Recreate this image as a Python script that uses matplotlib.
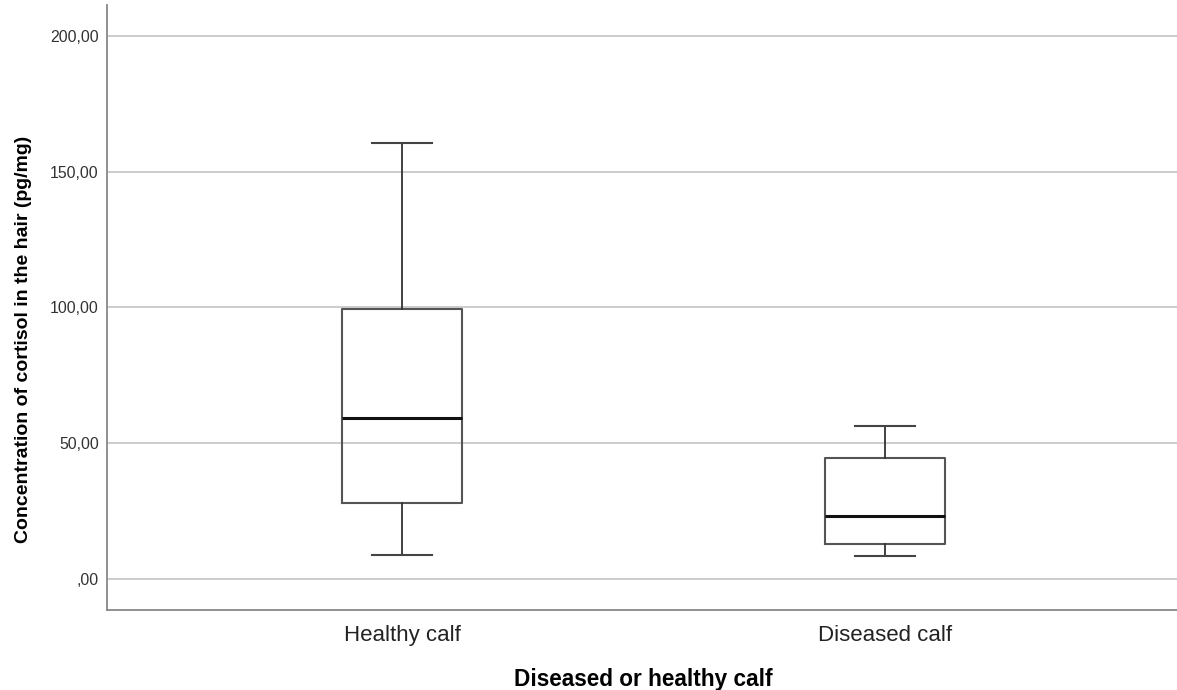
import matplotlib.pyplot as plt
from matplotlib.ticker import FuncFormatter

plt.rcParams['font.family'] = ['Liberation Sans', 'DejaVu Sans']

# Box plot summary values (pg/mg)
groups = ["Healthy calf", "Diseased calf"]
whisker_low = [8.9, 8.5]
q1 = [28.0, 13.0]
median = [59.5, 23.4]
q3 = [99.6, 44.7]
whisker_high = [160.4, 56.4]
y_ticks = [0, 50, 100, 150, 200]

stats = []
for i, g in enumerate(groups):
    stats.append({"label": g, "whislo": whisker_low[i], "q1": q1[i], "med": median[i],
                  "q3": q3[i], "whishi": whisker_high[i], "fliers": []})


def comma_fmt(v, pos):
    s = ("%.2f" % v).replace(".", ",")
    if v == 0:
        s = s.lstrip("0")
    return s


fig = plt.figure(figsize=(11.77, 6.9), dpi=100)
ax = fig.add_axes([0.0909, 0.1159, 0.9091, 0.8769])

ax.bxp(stats, positions=[1, 2], widths=0.25, showfliers=False,
       boxprops=dict(color="#555555", linewidth=1.5),
       whiskerprops=dict(color="#333333", linewidth=1.3),
       capprops=dict(color="#444444", linewidth=1.5),
       medianprops=dict(color="#111111", linewidth=2.2),
       capwidths=0.125, zorder=3)

ax.set_xlim(0.389, 2.605)
ax.set_ylim(-11.3, 211.3)
ax.set_yticks(y_ticks)
ax.yaxis.set_major_formatter(FuncFormatter(comma_fmt))
ax.grid(axis="y", color="#c8c8c8", linewidth=1.3, zorder=0)
ax.set_axisbelow(True)

for s in ["top", "right"]:
    ax.spines[s].set_visible(False)
for s in ["left", "bottom"]:
    ax.spines[s].set_color("#888888")
    ax.spines[s].set_linewidth(1.3)

ax.tick_params(axis="both", length=0)
ax.tick_params(axis="y", labelsize=11.4, pad=6, colors="#333333")
ax.tick_params(axis="x", labelsize=16, pad=11, colors="#222222")

ax.set_xlabel("Diseased or healthy calf", fontsize=16.3, fontweight="bold")
ax.set_ylabel("Concentration of cortisol in the hair (pg/mg)", fontsize=14, fontweight="bold")
ax.xaxis.set_label_coords(0.501, -0.095)
ax.yaxis.set_label_coords(-0.070, 0.448)

fig.savefig("out.png", dpi=100)
